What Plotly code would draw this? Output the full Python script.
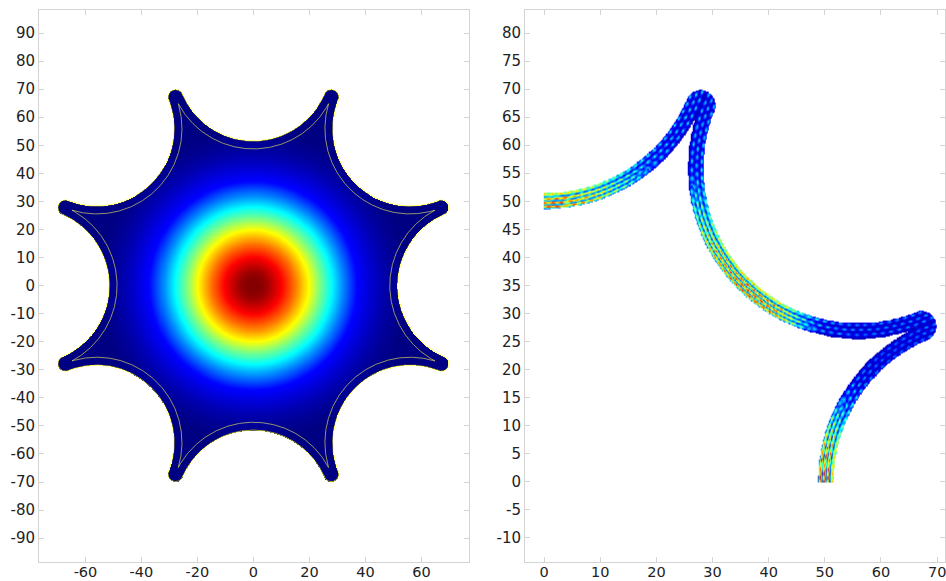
import numpy as np
import plotly.graph_objects as go

# axis ticks
left_x_ticks = [-60, -40, -20, 0, 20, 40, 60]
left_y_ticks = list(range(-90, 100, 10))
right_x_ticks = list(range(0, 80, 10))
right_y_ticks = list(range(-10, 85, 5))

# fibre geometry (axis units)
hole_centre_dist = 79.1
tube_mid_radius = 29.0
tube_half_width = 1.4
cusp_dist = 72.7
cusp_radius = 2.7

# left panel: core mode radial profile
core_r = [0, 3, 5, 10, 15, 20, 24, 28, 32, 37, 42, 46, 50, 55, 90]
core_v = [1.0, 0.99, 0.97, 0.88, 0.76, 0.62, 0.49, 0.375, 0.26, 0.13, 0.08, 0.045, 0.02, 0.0, 0.0]

# right panel: tube mode envelope along each arc (degrees from mid arc)
arc_a_deg = [0, 10, 20, 30, 40, 50, 60, 70]
arc_a_env = [1.0, 0.95, 0.8, 0.62, 0.45, 0.36, 0.35, 0.35]
arc_b_deg = [-70, -45, -30, -15, 0, 15, 25, 32, 45, 70]
arc_b_env = [0.33, 0.38, 0.65, 0.88, 1.0, 0.95, 0.6, 0.35, 0.25, 0.28]
arc_c_deg = [0, 10, 20, 30, 40, 50, 70]
arc_c_env = [1.0, 0.95, 0.7, 0.45, 0.28, 0.22, 0.26]
stripe_profile = [0.5, 0.65, 0.68, 0.4, 0.12, 0.55, 0.88, 0.55, 0.12, 0.6, 0.9, 0.6, 0.12, 0.62, 0.9, 0.55, 0.16]
stripe_shift = [0.0, 0.0, 0.0, 0.25, 0.5, 0.5, 0.5, 0.5, 0.0, 0.0, 0.0, 0.0, 0.5, 0.5, 0.5, 0.5, 0.5]
lobe_profile = [0.15, 0.55, 1.0, 0.55, 0.1, 0.05, 0.5, 1.0, 0.55, 0.1, 0.05, 0.55, 1.0, 0.5, 0.1, 0.05, 0.05]
lobe_shift = [0.0, 0.0, 0.0, 0.0, 0.0, 0.5, 0.5, 0.5, 0.5, 0.5, 0.0, 0.0, 0.0, 0.0, 0.0, 0.0, 0.0]
beat = [1.0, 0.75, 0.3, 0.1, 0.3, 0.75]
beat_period = 1.5

jet = [[0, "rgb(0,0,131)"], [0.125, "rgb(0,0,255)"], [0.375, "rgb(0,255,255)"],
       [0.625, "rgb(255,255,0)"], [0.875, "rgb(255,0,0)"], [1, "rgb(128,0,0)"]]

Ro = tube_mid_radius - tube_half_width
Ri = tube_mid_radius + tube_half_width
hole_angles = np.deg2rad(np.arange(0, 360, 45))
cusp_angles = hole_angles + np.pi / 8


def star_mask(X, Y):
    r = np.hypot(X, Y)
    m = r <= cusp_dist
    for a in hole_angles:
        m &= np.hypot(X - hole_centre_dist * np.cos(a), Y - hole_centre_dist * np.sin(a)) >= Ro
    for a in cusp_angles:
        m |= np.hypot(X - cusp_dist * np.cos(a), Y - cusp_dist * np.sin(a)) <= cusp_radius
    return m


# ---------- left field
lx = np.arange(-77, 77.01, 0.18)
ly = np.arange(-79, 79.01, 0.18)
LX, LY = np.meshgrid(lx, ly)
Lz = np.interp(np.hypot(LX, LY), core_r, core_v).astype("float32")
Lz[~star_mask(LX, LY)] = np.nan

# outlines
def outline_pts(radius, rmax):
    xs, ys = [], []
    for a in hole_angles:
        th = np.linspace(-1.4, 1.4, 300)
        cx, cy = hole_centre_dist * np.cos(a), hole_centre_dist * np.sin(a)
        px, py = cx - radius * np.cos(a + th), cy - radius * np.sin(a + th)
        ang = np.abs((np.arctan2(py, px) - a + np.pi) % (2 * np.pi) - np.pi)
        keep = (ang <= np.pi / 8) & (np.hypot(px, py) <= rmax)
        xs += list(px[keep]) + [None]
        ys += list(py[keep]) + [None]
    return xs, ys


ox, oy = outline_pts(Ro, cusp_dist)
ix, iy = outline_pts(Ri, cusp_dist)
bx, by = [], []
for a in cusp_angles:
    th = np.linspace(a - 1.75, a + 1.75, 60)
    bx += list(cusp_dist * np.cos(a) + cusp_radius * np.cos(th)) + [None]
    by += list(cusp_dist * np.sin(a) + cusp_radius * np.sin(th)) + [None]

# ---------- right field
rx = np.arange(0, 72.01, 0.12)
ry = np.arange(0, 72.01, 0.12)
RX, RY = np.meshgrid(rx, ry)
star = star_mask(RX, RY)
Cent = [(0.0, hole_centre_dist, arc_a_deg, arc_a_env, 1),
        (hole_centre_dist * np.cos(np.pi / 4), hole_centre_dist * np.sin(np.pi / 4), arc_b_deg, arc_b_env, 2),
        (hole_centre_dist, 0.0, arc_c_deg, arc_c_env, 3)]
dists = np.stack([np.hypot(RX - c[0], RY - c[1]) for c in Cent])
near = np.argmin(dists, axis=0)
d = np.min(dists, axis=0)
env = np.zeros_like(RX)
sdist = np.zeros_like(RX)
for i, c in enumerate(Cent):
    sel = near == i
    to_origin = np.arctan2(-c[1], -c[0])
    ang = np.arctan2(RY[sel] - c[1], RX[sel] - c[0]) - to_origin
    ang = (ang + np.pi) % (2 * np.pi) - np.pi
    deg = np.abs(np.rad2deg(ang)) if i != 1 else np.rad2deg(ang)
    env[sel] = np.interp(deg, c[2], c[3])
    sdist[sel] = np.deg2rad(deg) * tube_mid_radius
t = np.clip((d - tube_mid_radius) / tube_half_width, -1, 1)
in_blob = np.zeros_like(star)
for a in cusp_angles[:2]:
    bd = np.hypot(RX - cusp_dist * np.cos(a), RY - cusp_dist * np.sin(a))
    b = bd <= cusp_radius
    outside = b & (np.abs(d - tube_mid_radius) > tube_half_width)
    t[outside] = bd[outside] / cusp_radius * 2 - 1
    in_blob |= b
tgrid = np.linspace(-1, 1, len(stripe_profile))
w = np.interp(env, [0.35, 0.6], [1.0, 0.0])
cross = w * np.interp(t, tgrid, lobe_profile) + (1 - w) * np.interp(t, tgrid, stripe_profile)
shift = np.where(w > 0.5, np.interp(t, tgrid, lobe_shift), np.interp(t, tgrid, stripe_shift))
phase = (sdist / beat_period + shift) % 1
bb = np.interp(phase, np.linspace(0, 1, len(beat) + 1), beat + [beat[0]])
contrast = np.interp(env, [0.3, 0.8], [1.0, 0.3])
Rz = env * cross * (1 - contrast * (1 - bb)) + 0.06
tube = (d <= Ri) | in_blob
Rz = Rz.astype("float32")
Rz[~(star & tube)] = np.nan

fig = go.Figure()
fig.add_trace(go.Heatmap(x=lx, y=ly, z=Lz, colorscale=jet, zmin=0, zmax=1, showscale=False,
                         hoverinfo="skip", xaxis="x", yaxis="y"))
fig.add_trace(go.Scatter(x=ox + bx, y=oy + by, mode="lines", line=dict(color="rgba(255,255,0,0.85)", width=0.8),
                         hoverinfo="skip", showlegend=False, xaxis="x", yaxis="y"))
fig.add_trace(go.Scatter(x=ix, y=iy, mode="lines", line=dict(color="rgba(235,235,90,0.7)", width=0.9),
                         hoverinfo="skip", showlegend=False, xaxis="x", yaxis="y"))
fig.add_trace(go.Heatmap(x=rx, y=ry, z=Rz, colorscale=jet, zmin=0, zmax=1, showscale=False, zsmooth="best",
                         hoverinfo="skip", xaxis="x2", yaxis="y2"))

W, H = 946, 581
BOTTOM = 562
def ax(size=15, **kw):
    return dict(showgrid=False, zeroline=False, showline=True, linecolor="#d4d4d4", linewidth=1,
                mirror="ticks", ticks="inside", ticklen=5, tickcolor="#d4d4d4", tickwidth=1,
                ticklabeloverflow="allow", automargin=False,
                tickfont=dict(family="DejaVu Sans", size=size, color="#222222"), tickmode="array", **kw)

fig.update_layout(
    width=W, height=H, margin=dict(l=0, r=0, t=0, b=0), paper_bgcolor="white", plot_bgcolor="white",
    showlegend=False,
    xaxis=ax(size=14.5, ticklabelstandoff=-3, domain=[39 / W, 469 / W], range=[-76.6, 77.0], tickvals=left_x_ticks,
             ticktext=[str(v) for v in left_x_ticks], anchor="y"),
    yaxis=ax(domain=[1 - BOTTOM / H, 1 - 10 / H], range=[-98.5, 98.2], tickvals=left_y_ticks,
             ticktext=[str(v) for v in left_y_ticks], anchor="x"),
    xaxis2=ax(size=14.5, ticklabelstandoff=-3, domain=[525 / W, 945 / W], range=[-3.4, 71.4], tickvals=right_x_ticks,
              ticktext=[str(v) for v in right_x_ticks], anchor="y2"),
    yaxis2=ax(domain=[1 - BOTTOM / H, 1 - 10 / H], range=[-14.3, 84.1], tickvals=right_y_ticks,
              ticktext=[str(v) for v in right_y_ticks], anchor="x2"),
)
fig.write_html("out.html", config=dict(displayModeBar=False), default_width="946px", default_height="581px",
               post_script="document.documentElement.style.overflow='hidden';document.body.style.overflow='hidden';document.body.style.margin='0';document.body.style.height='581px';document.body.style.width='946px';")
